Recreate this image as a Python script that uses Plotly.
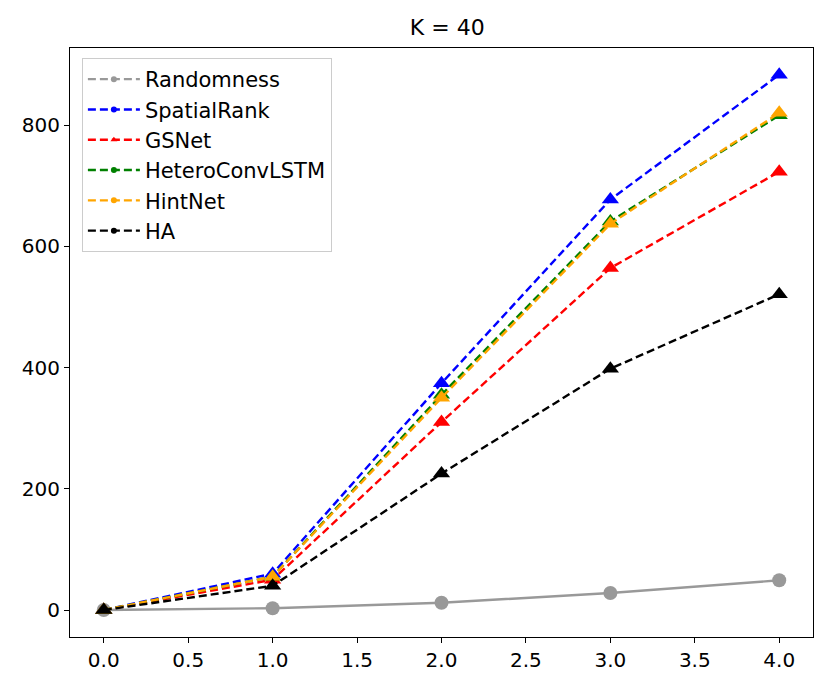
import plotly.graph_objects as go

# values
x_vals = [0, 1, 2, 3, 4]
randomness = [0, 3, 12, 28, 49]
spatial_rank = [0, 60, 374, 677, 883]
gsnet = [0, 50, 310, 564, 723]
hetero_conv_lstm = [0, 55, 355, 641, 816]
hintnet = [0, 55, 350, 637, 820]
ha = [0, 40, 225, 398, 521]

series = [
    ("SpatialRank", spatial_rank, "blue"),
    ("GSNet", gsnet, "red"),
    ("HeteroConvLSTM", hetero_conv_lstm, "green"),
    ("HintNet", hintnet, "orange"),
    ("HA", ha, "black"),
]

fig = go.Figure()

# plotted data
fig.add_trace(
    go.Scatter(
        x=x_vals,
        y=randomness,
        mode="lines+markers",
        line=dict(color="#999999", width=2.4),
        marker=dict(symbol="circle", size=14, color="#999999"),
        showlegend=False,
    )
)
for name, vals, color in series:
    fig.add_trace(
        go.Scatter(
            x=x_vals,
            y=vals,
            mode="lines+markers",
            line=dict(color=color, width=2.4, dash="8px,4px"),
            marker=dict(symbol="triangle-up", size=15, color=color),
            showlegend=False,
        )
    )

# legend entries (dashed line with a small dot, as in the reference)
legend_items = [("Randomness", "#999999", "circle")] + [
    (name, color, "triangle-up" if name == "GSNet" else "circle") for name, _, color in series
]
for name, color, symbol in legend_items:
    fig.add_trace(
        go.Scatter(
            x=[None],
            y=[None],
            mode="lines+markers",
            name=name,
            legendgroup=name,
            line=dict(color=color, width=2.4, dash="8px,4px"),
            marker=dict(symbol=symbol, size=6, color=color),
        )
    )

axis_style = dict(
    showline=True,
    linecolor="black",
    linewidth=1.2,
    mirror=True,
    ticks="outside",
    ticklen=5,
    tickcolor="black",
    showgrid=False,
    zeroline=False,
    tickfont=dict(size=20, color="black"),
)

fig.update_xaxes(range=[-0.2, 4.2], tickvals=[0, 0.5, 1, 1.5, 2, 2.5, 3, 3.5, 4],
                 tickformat=".1f", **axis_style)
fig.update_yaxes(range=[-44.5, 927], tickvals=[0, 200, 400, 600, 800], **axis_style)

# the page body adds an 8px offset, so the figure is sized to fit the window
fig.update_layout(
    width=821,
    height=681,
    margin=dict(l=62, r=16, t=40, b=52),
    title=dict(text="K = 40", x=0.535, xanchor="center", y=0.972, yanchor="middle",
               font=dict(size=22, color="black")),
    font=dict(family="DejaVu Sans", color="black"),
    plot_bgcolor="white",
    paper_bgcolor="white",
    legend=dict(
        x=0.016,
        y=0.983,
        xanchor="left",
        yanchor="top",
        bgcolor="white",
        bordercolor="#cccccc",
        borderwidth=1,
        font=dict(size=21, color="black"),
        itemwidth=52,
        tracegroupgap=0,
    ),
)

fig.write_html("out.html")
